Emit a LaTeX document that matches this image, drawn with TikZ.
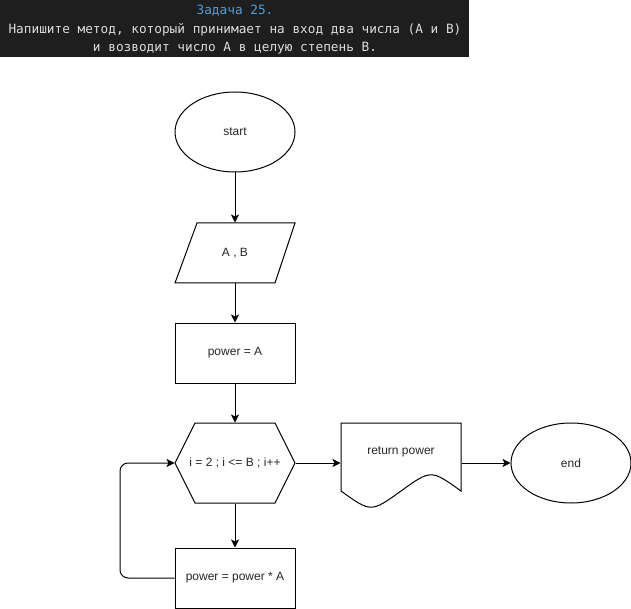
\documentclass[tikz,border=0pt]{standalone}
\usepackage{fontspec}
\setmainfont{Liberation Sans}
\newfontfamily\hdrfont{DejaVu Sans Mono}
\usetikzlibrary{arrows.meta,calc,shapes.geometric}
\definecolor{hdrbg}{HTML}{1E1E1E}
\definecolor{hdrtitle}{HTML}{569CD6}
\definecolor{hdrtext}{HTML}{DCDCDC}
\begin{document}
\begin{tikzpicture}[x=1pt,y=-1pt,
  line width=1pt,
  box/.style={rectangle,minimum width=120pt,minimum height=#1,inner sep=0pt,font=\fontsize{12}{14}\selectfont,text=black!85},
  box/.default=60pt,
  conn/.style={-{Stealth[length=8pt,width=8pt,inset=2pt]}},
  hdr/.style={font=\hdrfont\fontsize{12.75}{15}\selectfont,inner sep=0pt,anchor=center}
]
\useasboundingbox (0,0) rectangle (631,609);
% header
\fill[hdrbg] (0,0) rectangle (469,57);
\node[hdr,text=hdrtitle] (t1) at (235,10.5) {Задача 25.};
\node[hdr,text=hdrtext] (t2) at (235,29.5) {Напишите метод, который принимает на вход два числа (A и B)};
\node[hdr,text=hdrtext] (t3) at (235,48.5) {и возводит число A в целую степень B.};
% start
\node[box=80pt,shape=ellipse,draw,minimum width=120pt] (start) at (235,132) {\raisebox{-1pt}{start}};
% input parallelogram
\node[box] (io) at (235,253) {\raisebox{-1pt}{A , B}};
\draw (197,223) -- (295,223) -- (275,283) -- (175,283) -- cycle;
% power = A
\node[box,draw] (init) at (235,353) {\raisebox{-1pt}{power = A}};
% loop hexagon
\node[box=80pt] (loop) at (235,463) {\raisebox{-1pt}{i = 2 ; i <= B ; i++}};
\draw (175,463) -- (195,423) -- (275,423) -- (295,463) -- (275,503) -- (195,503) -- cycle;
% body
\node[box,draw] (body) at (235,578) {\raisebox{-1pt}{power = power * A}};
% document
\node[box=80pt] (doc) at (401,463) {};
\node[box,minimum height=14pt] (doctext) at (401,452) {return power};
\draw (341,423) -- (461,423) -- (461,491)
  .. controls (431,469.4) .. (401,491)
  .. controls (371,512.6) .. (341,491) -- cycle;
% end
\node[box=80pt,shape=ellipse,draw,minimum width=120pt] (end) at (571,463) {\raisebox{-1pt}{end}};
% connectors
\draw[conn] (start.south) -- (io.north);
\draw[conn] (io.south) -- (init.north);
\draw[conn] (init.south) -- (loop.north);
\draw[conn] (loop.south) -- (body.north);
\draw[conn] (loop.east) -- (doc.west);
\draw[conn] (doc.east) -- (end.west);
\draw[conn,rounded corners=8pt] (body.west) -- (120,578) -- (120,463) -- (loop.west);
\end{tikzpicture}
\end{document}
